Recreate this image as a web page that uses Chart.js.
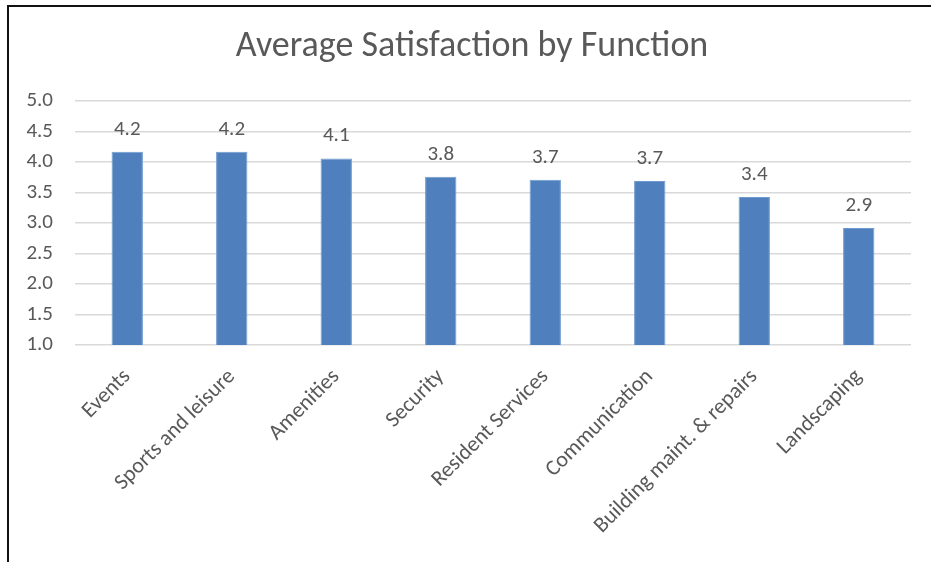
<!DOCTYPE html>
<html>
<head>
<meta charset="utf-8">
<script src="https://cdn.jsdelivr.net/npm/chart.js@4"></script>
<style>
    html, body { margin: 0; padding: 0; background: #fff; }
    #wrap { position: relative; width: 931px; height: 562px; }
    #frame {
        position: absolute; left: 7px; top: 5px; right: 0; bottom: 0;
        border-top: 2px solid #111; border-left: 2px solid #111;
        pointer-events: none;
    }
    canvas { position: absolute; left: 0; top: 0; }
</style>
</head>
<body>
<div id="wrap">
    <canvas id="chart" width="931" height="562"></canvas>
    <div id="frame"></div>
</div>
<script>
// Data
const categories = ['Events', 'Sports and leisure', 'Amenities', 'Security',
    'Resident Services', 'Communication', 'Building maint. & repairs', 'Landscaping'];
const satisfaction = [4.17, 4.17, 4.06, 3.76, 3.71, 3.69, 3.43, 2.92];
const yTicks = [1.0, 1.5, 2.0, 2.5, 3.0, 3.5, 4.0, 4.5, 5.0];

const textColor = '#595959';
const fontFamily = "Carlito, 'Open Sans', sans-serif";

// Value labels above the bars
const valueLabels = {
    id: 'valueLabels',
    afterDatasetsDraw(chart) {
        const { ctx } = chart;
        const meta = chart.getDatasetMeta(0);
        ctx.save();
        ctx.fillStyle = textColor;
        ctx.font = `21px ${fontFamily}`;
        ctx.textAlign = 'center';
        ctx.textBaseline = 'alphabetic';
        meta.data.forEach((bar, i) => {
            ctx.fillText(satisfaction[i].toFixed(1), bar.x, bar.y - 17);
        });
        ctx.restore();
    }
};

const ctx = document.getElementById('chart').getContext('2d');
new Chart(ctx, {
    type: 'bar',
    data: {
        labels: categories,
        datasets: [{
            label: 'Average Satisfaction',
            data: satisfaction,
            backgroundColor: '#4f80bd',
            borderColor: '#6f9ad0',
            borderWidth: 1,
            barPercentage: 0.3,
            categoryPercentage: 1
        }]
    },
    options: {
        responsive: false,
        animation: false,
        layout: { padding: { left: 13, right: 0, top: 0, bottom: 0 } },
        plugins: {
            legend: { display: false },
            tooltip: { enabled: false },
            title: {
                display: true,
                text: 'Average Satisfaction by Function',
                color: textColor,
                font: { family: fontFamily, size: 36, weight: 'normal' },
                padding: { top: 25, bottom: 33 }
            }
        },
        scales: {
            x: {
                grid: { display: false },
                border: { display: false },
                ticks: {
                    color: textColor,
                    font: { family: fontFamily, size: 22 },
                    minRotation: 45,
                    maxRotation: 45,
                    padding: 11
                },
                afterFit: scale => { scale.height = 217; }
            },
            y: {
                min: 1,
                max: 5,
                border: { display: false },
                grid: { color: '#d9d9d9', lineWidth: 1.5, drawTicks: false },
                afterBuildTicks: scale => {
                    scale.ticks = yTicks.map(v => ({ value: v }));
                },
                ticks: {
                    color: textColor,
                    font: { family: fontFamily, size: 21 },
                    padding: 22,
                    callback: v => Number(v).toFixed(1)
                },
                afterFit: scale => { scale.width = 62; }
            },
            // empty right margin box so the title centres over the whole frame
            yRight: {
                position: 'right',
                display: true,
                grid: { display: false },
                border: { display: false },
                ticks: { display: false },
                afterFit: scale => { scale.width = 20; }
            }
        }
    },
    plugins: [valueLabels]
});
</script>
</body>
</html>
